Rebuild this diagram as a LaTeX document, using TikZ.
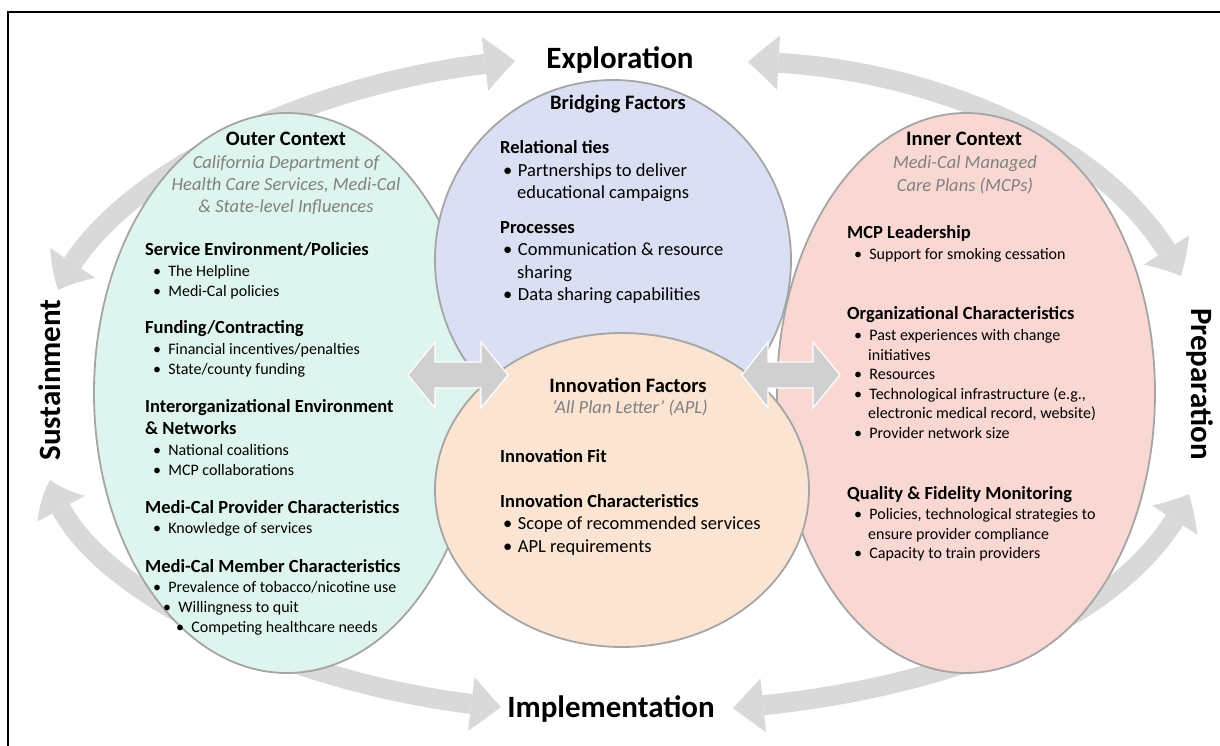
\documentclass[tikz,border=0pt]{standalone}
\usepackage{fontspec}
\setmainfont{Carlito}
\usetikzlibrary{arrows.meta,shapes.geometric,bending}

\definecolor{greenfill}{RGB}{222,245,239}
\definecolor{bluefill}{RGB}{218,223,243}
\definecolor{orangefill}{RGB}{252,228,211}
\definecolor{pinkfill}{RGB}{249,216,212}
\definecolor{edgegray}{RGB}{165,165,165}
\definecolor{ringgray}{RGB}{217,217,217}
\definecolor{dblgray}{RGB}{208,208,208}
\definecolor{subgray}{RGB}{128,128,128}

\newcommand\phaseFont{\fontsize{31}{37}\selectfont\bfseries}
\newcommand\boxTitleFont{\fontsize{20.5}{24}\selectfont\bfseries}
\newcommand\boxSubFont{\fontsize{18.5}{22}\selectfont\itshape\color{subgray}}
\newcommand\secFont{\fontsize{18.5}{22}\selectfont\bfseries}
\newcommand\bulSmall{\fontsize{16}{19}\selectfont}
\newcommand\bulLarge{\fontsize{18.5}{22}\selectfont}
\newcommand\bu{•\hspace{0.45em}}
\newcommand\bul{•\hspace{0.3em}}

\begin{document}
\begin{tikzpicture}[x=1pt,y=-1pt,
  blob/.style={ellipse,draw=edgegray,line width=1.8pt,inner sep=0pt},
  ring/.style={draw=ringgray,line width=20pt,
    {Triangle[width=54pt,length=30pt,line width=0pt,bend]}-{Triangle[width=54pt,length=30pt,line width=0pt,bend]}},
  dbl/.style={fill=dblgray,draw=white,line width=1.2pt,line join=miter},
  lt/.style={inner sep=0pt,anchor=base west},
  ct/.style={inner sep=0pt,anchor=base},
  phase/.style={inner sep=0pt,font=\phaseFont}]
\useasboundingbox (0,0) rectangle (1220,746);
\clip (0,0) rectangle (1220,746);

% frame
\draw[line width=2.5pt] (1240,12) -- (8,12) -- (8,760);

% phase ring (behind the ellipses)
\coordinate (tlA) at (58,290);  \coordinate (tlB) at (515,61);
\coordinate (trA) at (748,62);  \coordinate (trB) at (1181,276);
\coordinate (blA) at (50,480);  \coordinate (blB) at (501,707);
\coordinate (brA) at (733,708); \coordinate (brB) at (1189,494);
\draw[ring] (tlA) .. controls (110,170) and (330,75) .. (tlB);
\draw[ring] (trA) .. controls (900,62) and (1110,130) .. (trB);
\draw[ring] (blA) .. controls (75,590) and (300,690) .. (blB);
\draw[ring] (brA) .. controls (900,695) and (1120,640) .. (brB);

% context ellipses
\node[blob,fill=greenfill,minimum width=386pt,minimum height=560pt] (outer) at (287,393) {};
\node[blob,fill=pinkfill,minimum width=378pt,minimum height=560pt] (inner) at (966,393) {};
\node[blob,fill=bluefill,minimum width=356pt,minimum height=360pt] (bridge) at (613,260) {};
\node[blob,fill=orangefill,minimum width=374pt,minimum height=314pt] (innov) at (622,490) {};

% double arrows between the ellipses
\draw[dbl] (408,375) -- (435,342) -- (435,362) -- (481,362) -- (481,342) -- (508,375)
  -- (481,408) -- (481,388) -- (435,388) -- (435,408) -- cycle;
\draw[dbl] (742,375) -- (768,342) -- (768,362) -- (813,362) -- (813,342) -- (840,375)
  -- (813,408) -- (813,388) -- (768,388) -- (768,408) -- cycle;

% phase labels
\node[phase,ct] (pE) at (620,69) {Exploration};
\node[phase,ct] (pI) at (611,717) {Implementation};
\node[phase,rotate=90] (pS) at (50,380) {Sustainment};
\node[phase,rotate=-90] (pP) at (1200,384) {Preparation};

% outer context
\node[ct,font=\boxTitleFont] (o0) at (286,146) {Outer Context};
\node[ct,font=\boxSubFont] (o1) at (286,168.5) {California Department of};
\node[ct,font=\boxSubFont] (o2) at (286,190.5) {Health Care Services, Medi-Cal};
\node[ct,font=\boxSubFont] (o3) at (286,212.5) {\& State-level Influences};
\node[lt,font=\secFont] (o4) at (145,255.5) {Service Environment/Policies};
\node[lt,font=\bulSmall] (o5) at (153,276) {\bu The Helpline};
\node[lt,font=\bulSmall] (o6) at (153,296) {\bu Medi-Cal policies};
\node[lt,font=\secFont] (o7) at (145,333.5) {Funding/Contracting};
\node[lt,font=\bulSmall] (o8) at (153,354) {\bu Financial incentives/penalties};
\node[lt,font=\bulSmall] (o9) at (153,374) {\bu State/county funding};
\node[lt,font=\secFont] (o10) at (145,412.5) {Interorganizational Environment};
\node[lt,font=\secFont] (o11) at (145,434.5) {\& Networks};
\node[lt,font=\bulSmall] (o12) at (153,455) {\bu National coalitions};
\node[lt,font=\bulSmall] (o13) at (153,475) {\bu MCP collaborations};
\node[lt,font=\secFont] (o14) at (145,513.5) {Medi-Cal Provider Characteristics};
\node[lt,font=\bulSmall] (o15) at (153,533) {\bu Knowledge of services};
\node[lt,font=\secFont] (o16) at (145,572.5) {Medi-Cal Member Characteristics};
\node[lt,font=\bulSmall] (o17) at (153,592) {\bu Prevalence of tobacco/nicotine use};
\node[lt,font=\bulSmall] (o18) at (163,612) {\bu Willingness to quit};
\node[lt,font=\bulSmall] (o19) at (176,632) {\bu Competing healthcare needs};

% bridging factors
\node[ct,font=\boxTitleFont] (b0) at (618,110) {Bridging Factors};
\node[lt,font=\secFont] (b1) at (500,153.5) {Relational ties};
\node[lt,font=\bulLarge] (b2) at (503,176.5) {\bul Partnerships to deliver};
\node[lt,font=\bulLarge] (b3) at (517,198.5) {educational campaigns};
\node[lt,font=\secFont] (b4) at (500,233.5) {Processes};
\node[lt,font=\bulLarge] (b5) at (503,255.5) {\bul Communication \& resource};
\node[lt,font=\bulLarge] (b6) at (517,278.5) {sharing};
\node[lt,font=\bulLarge] (b7) at (503,300.5) {\bul Data sharing capabilities};

% innovation factors
\node[ct,font=\boxTitleFont] (n0) at (628,392) {Innovation Factors};
\node[ct,font=\boxSubFont] (n1) at (630,413.5) {‘All Plan Letter’ (APL)};
\node[lt,font=\secFont] (n2) at (500,462.5) {Innovation Fit};
\node[lt,font=\secFont] (n3) at (500,507.5) {Innovation Characteristics};
\node[lt,font=\bulLarge] (n4) at (503,529.5) {\bul Scope of recommended services};
\node[lt,font=\bulLarge] (n5) at (503,552.5) {\bul APL requirements};

% inner context
\node[ct,font=\boxTitleFont] (i0) at (964,146) {Inner Context};
\node[ct,font=\boxSubFont] (i1) at (965,168.5) {Medi-Cal Managed};
\node[ct,font=\boxSubFont] (i2) at (965,191.5) {Care Plans (MCPs)};
\node[lt,font=\secFont] (i3) at (847,238.5) {MCP Leadership};
\node[lt,font=\bulSmall] (i4) at (854,259) {\bu Support for smoking cessation};
\node[lt,font=\secFont] (i5) at (847,319.5) {Organizational Characteristics};
\node[lt,font=\bulSmall] (i6) at (854,340) {\bu Past experiences with change};
\node[lt,font=\bulSmall] (i7) at (868,360) {initiatives};
\node[lt,font=\bulSmall] (i8) at (854,379) {\bu Resources};
\node[lt,font=\bulSmall] (i9) at (854,399) {\bu Technological infrastructure (e.g.,};
\node[lt,font=\bulSmall] (i10) at (868,418) {electronic medical record, website)};
\node[lt,font=\bulSmall] (i11) at (854,438) {\bu Provider network size};
\node[lt,font=\secFont] (i12) at (847,499.5) {Quality \& Fidelity Monitoring};
\node[lt,font=\bulSmall] (i13) at (854,519) {\bu Policies, technological strategies to};
\node[lt,font=\bulSmall] (i14) at (868,539) {ensure provider compliance};
\node[lt,font=\bulSmall] (i15) at (854,558) {\bu Capacity to train providers};
\end{tikzpicture}
\end{document}
